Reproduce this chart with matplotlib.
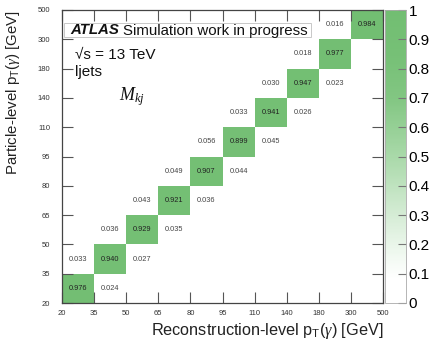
import numpy as np
import matplotlib
matplotlib.use("Agg")
import matplotlib.pyplot as plt
from matplotlib.colors import LinearSegmentedColormap
from matplotlib.patches import Rectangle

plt.rcParams["font.family"] = ["Liberation Sans", "DejaVu Sans"]
plt.rcParams["mathtext.fontset"] = "custom"
plt.rcParams["mathtext.rm"] = "Liberation Sans"
plt.rcParams["mathtext.it"] = "Liberation Serif:italic"

bin_edges = ["20", "35", "50", "65", "80", "95", "110", "140", "180", "300", "500"]
diag = [0.976, 0.940, 0.929, 0.921, 0.907, 0.899, 0.941, 0.947, 0.977, 0.984]
# value at (row i+1, col i): particle bin above reco bin
upper = [0.033, 0.036, 0.043, 0.049, 0.056, 0.033, 0.030, 0.018, 0.016]
# value at (row i, col i+1)
lower = [0.024, 0.027, 0.035, 0.036, 0.044, 0.045, 0.026, 0.023]

n = len(diag)
M = np.full((n, n), np.nan)
for i, v in enumerate(diag):
    M[i, i] = v
for i, v in enumerate(upper):
    M[i + 1, i] = v
for i, v in enumerate(lower):
    M[i, i + 1] = v

cmap = LinearSegmentedColormap.from_list(
    "gr",
    [(0.0, "#ffffff"), (0.08, "#ffffff"), (0.15, "#f3faf3"), (0.3, "#d5ecd5"), (0.5, "#a9d9a9"),
     (0.7, "#82c682"), (0.85, "#76c076"), (1.0, "#72be72")])

W, H = 433, 340
fig = plt.figure(figsize=(4.33, 3.40), dpi=100)
ax = fig.add_axes([62 / W, 1 - 303 / H, 321 / W, 293 / H])
cax = fig.add_axes([385 / W, 1 - 303 / H, 21 / W, 293 / H])

mesh = ax.pcolormesh(np.arange(n + 1), np.arange(n + 1), np.ma.masked_invalid(M),
                     cmap=cmap, vmin=0, vmax=1)
ax.set_xlim(0, n)
ax.set_ylim(0, n)

for i in range(n):
    for j in range(n):
        v = M[i, j]
        if np.isnan(v):
            continue
        ax.text(j + 0.5, i + 0.5, f"{v:.3f}", ha="center", va="center",
                fontsize=5.3, color="#222222" if i == j else "#444444")

ax.set_xticks(np.arange(n + 1))
ax.set_yticks(np.arange(n + 1))
ax.set_xticklabels(bin_edges, fontsize=5.5, color="#333333")
ax.set_yticklabels(bin_edges, fontsize=5.5, color="#333333")
ax.tick_params(axis="both", direction="in", length=8, width=0.8, color="#555555",
               top=True, right=True)
ax.tick_params(axis="x", pad=5)
ax.tick_params(axis="y", pad=8.5)
for s in ax.spines.values():
    s.set_color("#444444")
    s.set_linewidth(0.9)

fig.text(383 / W, 1 - 331 / H,
         r"Reconstruction-level p$_{\mathregular{T}}$($\mathit{\gamma}$) [GeV]",
         fontsize=11.7, color="#222222", ha="right", va="center")
fig.text(13 / W, 1 - 10 / H,
         r"Particle-level p$_{\mathregular{T}}$($\mathit{\gamma}$) [GeV]",
         fontsize=10.8, color="#222222", ha="center", va="top", rotation=90,
         rotation_mode="anchor" if False else "default")

# ATLAS label box
box = Rectangle((64, H - 37), 247, 14, transform=None, fc="white", ec="#c8c8c8",
                lw=0.7, zorder=4)
fig.add_artist(box)
t1 = fig.text(70 / W, 1 - 30.5 / H, "ATLAS", fontsize=10.8, fontweight="bold",
              fontstyle="italic", ha="left", va="center", color="#111111", zorder=5)
fig.canvas.draw()
bb = t1.get_window_extent(renderer=fig.canvas.get_renderer())
fig.text((bb.x1 + 4) / W, 1 - 30.5 / H, "Simulation work in progress", fontsize=10.8,
         ha="left", va="center", color="#111111", zorder=5)

fig.text(75 / W, 1 - 55 / H, "\u221as = 13 TeV", fontsize=11,
         ha="left", va="center", color="#111111")
fig.text(75 / W, 1 - 72 / H, "ljets", fontsize=11,
         ha="left", va="center", color="#111111")
fig.text(119 / W, 1 - 97 / H, r"$M_{kj}$", fontsize=13,
         ha="left", va="center", color="#111111")

cb = fig.colorbar(mesh, cax=cax, ticks=np.linspace(0, 1, 11))
cb.ax.set_yticklabels(["0", "0.1", "0.2", "0.3", "0.4", "0.5", "0.6", "0.7", "0.8", "0.9", "1"])
cb.ax.tick_params(direction="in", length=6, width=0.8, labelsize=11, color="#777777", pad=2)
cb.outline.set_edgecolor("#aaaaaa")
cb.outline.set_linewidth(0.6)

fig.savefig("out.png", dpi=100)
